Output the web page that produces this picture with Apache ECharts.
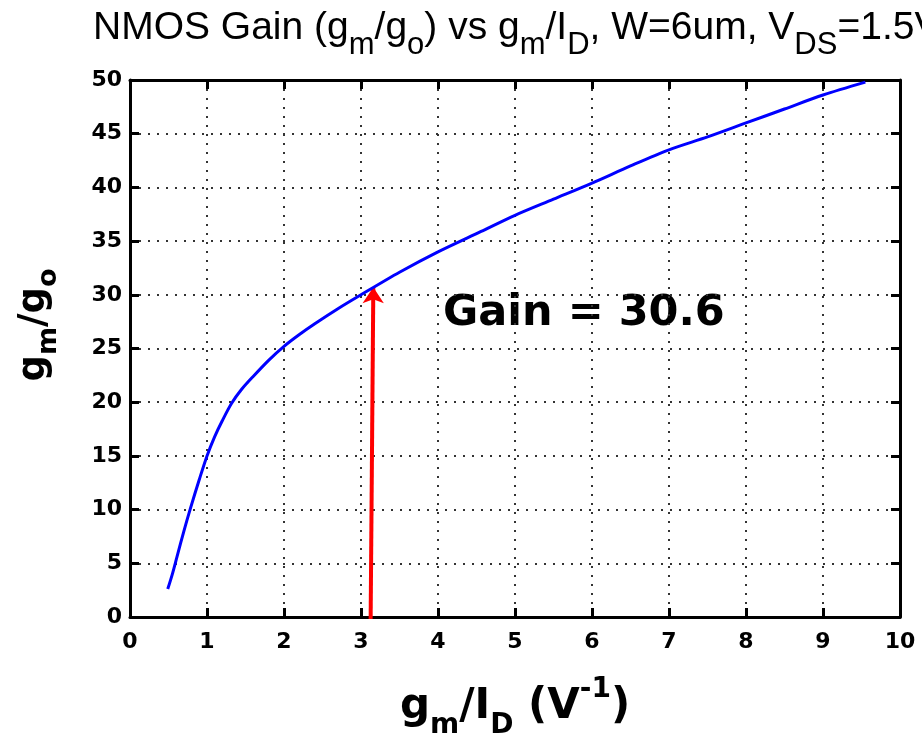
<!DOCTYPE html>
<html>
<head>
<meta charset="utf-8">
<script src="https://cdn.jsdelivr.net/npm/echarts@6/dist/echarts.min.js"></script>
<style>
html, body { margin: 0; padding: 0; background: #fff; }
#chart { width: 922px; height: 743px; }
</style>
</head>
<body>
<div id="chart"></div>
<script>
// gm/ID (V^-1) vs gm/go
const gmId = [0.49, 0.55, 0.61, 0.70, 0.78, 0.90, 1.00, 1.10, 1.20, 1.32, 1.45, 1.60, 1.80, 2.00,
  2.20, 2.40, 2.70, 3.00, 3.50, 4.00, 4.56, 5.00, 5.50, 6.00, 6.50, 7.00, 7.50, 8.00, 8.50, 9.00, 9.55];
const gain = [2.6, 4.0, 5.6, 8.0, 10.0, 12.8, 15.0, 16.8, 18.3, 19.9, 21.2, 22.4, 23.9, 25.2,
  26.3, 27.3, 28.7, 30.0, 32.1, 34.0, 35.9, 37.4, 38.9, 40.4, 42.0, 43.5, 44.7, 46.0, 47.3, 48.6, 49.8];

// red arrow, from the x axis up to the operating point
const arrowX = [3.125, 3.16];
const arrowY = [-0.3, 30.7];
const gainLabel = 'Gain = 30.6';

const xRange = [0, 10, 1];
const yRange = [0, 50, 5];

const curve = gmId.map((x, i) => [x, gain[i]]);
const arrow = arrowX.map((x, i) => [x, arrowY[i]]);

const chart = echarts.init(document.getElementById('chart'));

const boldFont = 'DejaVu Sans';
const axisLine = { show: true, onZero: false, lineStyle: { color: '#000', width: 3 } };
const tick = { show: true, inside: true, length: 9, lineStyle: { color: '#000', width: 3 } };
const dotted = { show: true, lineStyle: { color: '#333', width: 2, type: [2, 7] } };
const tickLabel = { color: '#000', fontFamily: boldFont, fontWeight: 'bold', fontSize: 22 };

const option = {
  backgroundColor: '#fff',
  animation: false,
  grid: { left: 130, right: 22, top: 80, bottom: 126, outerBoundsMode: 'none' },
  xAxis: [
    {
      type: 'value', min: xRange[0], max: xRange[1], interval: xRange[2],
      axisLine: axisLine, axisTick: tick, splitLine: dotted,
      axisLabel: Object.assign({ margin: 14 }, tickLabel)
    },
    {
      type: 'value', position: 'top', min: xRange[0], max: xRange[1], interval: xRange[2],
      axisLine: axisLine, axisTick: tick, splitLine: { show: false }, axisLabel: { show: false }
    }
  ],
  yAxis: [
    {
      type: 'value', min: yRange[0], max: yRange[1], interval: yRange[2],
      axisLine: axisLine, axisTick: tick, splitLine: dotted,
      axisLabel: Object.assign({ margin: 8 }, tickLabel)
    },
    {
      type: 'value', position: 'right', min: yRange[0], max: yRange[1], interval: yRange[2],
      axisLine: axisLine, axisTick: tick, splitLine: { show: false }, axisLabel: { show: false }
    }
  ],
  series: [
    {
      type: 'line',
      data: curve,
      showSymbol: false,
      smooth: 0.3,
      lineStyle: { color: '#0000ff', width: 3 }
    },
    {
      type: 'lines',
      coordinateSystem: 'cartesian2d',
      silent: true,
      symbol: ['none', 'arrow'],
      symbolSize: 16,
      lineStyle: { color: '#ff0000', width: 4, opacity: 1 },
      data: [{ coords: arrow }]
    }
  ],
  graphic: [
    {
      type: 'text', x: 93, y: 9,
      style: {
        text: '{n|NMOS Gain (g}{s|m}{n|/g}{s|o}{n|) vs g}{s|m}{n|/I}{s|D}{n|, W=6um, V}{s|DS}{n|=1.5V}',
        align: 'left', verticalAlign: 'top', fill: '#000',
        rich: {
          n: { fontFamily: 'Liberation Sans', fontSize: 39, lineHeight: 39, verticalAlign: 'top' },
          s: { fontFamily: 'Liberation Sans', fontSize: 31, lineHeight: 31, padding: [21, 0, 0, 0], verticalAlign: 'top' }
        }
      }
    },
    {
      type: 'text', x: 443, y: 314,
      style: {
        text: gainLabel, align: 'left', verticalAlign: 'middle', fill: '#000',
        fontFamily: boldFont, fontWeight: 'bold', fontSize: 43
      }
    },
    {
      type: 'text', x: 400, y: 676,
      style: {
        text: '{n|g}{s|m}{n|/I}{s|D}{n| (V}{p|-1}{n|)}',
        align: 'left', verticalAlign: 'top', fill: '#000',
        rich: {
          n: { fontFamily: boldFont, fontWeight: 'bold', fontSize: 42, lineHeight: 42, padding: [10, 0, 0, 0], verticalAlign: 'top' },
          s: { fontFamily: boldFont, fontWeight: 'bold', fontSize: 28, lineHeight: 28, padding: [36, 0, 0, 0], verticalAlign: 'top' },
          p: { fontFamily: boldFont, fontWeight: 'bold', fontSize: 28, lineHeight: 28, verticalAlign: 'top' }
        }
      }
    },
    {
      type: 'text', x: 34, y: 325, rotation: Math.PI / 2,
      style: {
        text: '{n|g}{s|m}{n|/g}{s|o}',
        align: 'center', verticalAlign: 'middle', fill: '#000',
        rich: {
          n: { fontFamily: boldFont, fontWeight: 'bold', fontSize: 37, lineHeight: 37, verticalAlign: 'top' },
          s: { fontFamily: boldFont, fontWeight: 'bold', fontSize: 27, lineHeight: 27, padding: [20, 0, 0, 0], verticalAlign: 'top' }
        }
      }
    }
  ]
};

chart.setOption(option);
</script>
</body>
</html>
